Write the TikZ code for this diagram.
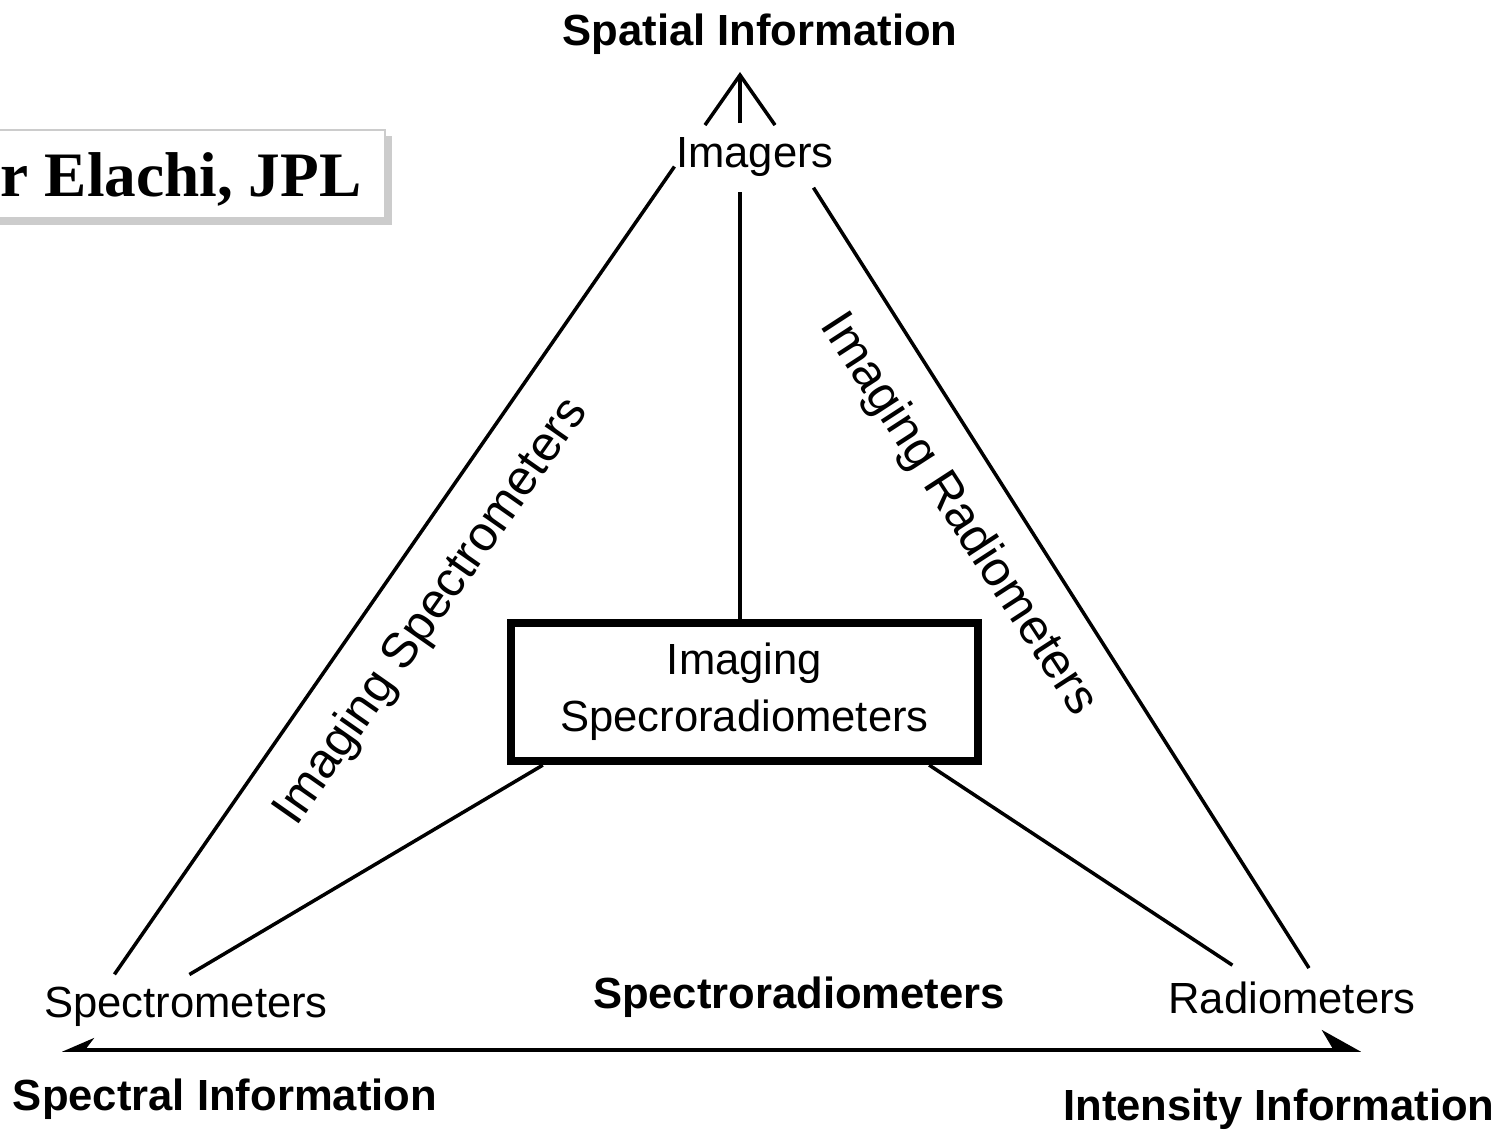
\documentclass[tikz,border=0pt]{standalone}
\usepackage{fontspec}
\setmainfont{Liberation Sans}
\newfontfamily\creditfont{Liberation Serif}
\usetikzlibrary{arrows.meta,calc}
\tikzset{
  rim/.style={line width=1pt,draw=black},
  info/.style={font=\fontsize{12.4pt}{15pt}\selectfont\bfseries,inner sep=0pt,anchor=base},
  kind/.style={font=\fontsize{12.4pt}{15pt}\selectfont,inner sep=4pt,anchor=base},
  sidetext/.style={font=\fontsize{14pt}{17pt}\selectfont,inner sep=0pt},
  corebox/.style={draw,line width=2.3pt,minimum width=4.67cm,minimum height=1.38cm,
    align=center,font=\fontsize{12.4pt}{16.2pt}\selectfont,inner sep=0pt},
  infoaxis/.style={line width=1pt,
    {Stealth[harpoon,swap,length=2.8mm,width=2.4mm]}-{Stealth[harpoon,length=3.6mm,width=4mm]}}
}
\begin{document}
\begin{tikzpicture}[x=0.01cm,y=-0.01cm]
  \useasboundingbox (0,0) rectangle (1506,1131);
  \clip (0,0) rectangle (1506,1131);

  % corners of the triangle
  \coordinate (spatial) at (740,72);
  \coordinate (spectral) at (62,1050);
  \coordinate (intensity) at (1361,1050);

  % credit box, runs off the left edge
  \fill[gray!40] (-20,136) rectangle (392,225);
  \filldraw[fill=white,draw=gray!40,line width=0.6pt] (-20,130) rectangle (385,218);
  \node[font=\creditfont\bfseries\fontsize{18pt}{20pt}\selectfont,anchor=base east,inner sep=0pt] (credit) at (362,197) {er Elachi, JPL};

  % axis names
  \node[info] (spatialtxt) at (760,46) {Spatial Information};
  \node[info] (spectraltxt) at (225,1110) {Spectral Information};
  \node[info] (intensitytxt) at (1279,1120) {Intensity Information};
  \node[info] (spectrorad) at (799,1008) {Spectroradiometers};

  % instrument kinds
  \node[kind] (imagers) at (755,168) {Imagers};
  \node[kind] (spectro) at (186,1017) {Spectrometers};
  \node[kind] (radio) at (1292,1013) {Radiometers};
  \node[corebox] (core) at (744.5,692) {Imaging\\Specroradiometers};

  \node[sidetext,rotate=55] (imgspec) at (432,612) {Imaging Spectrometers};
  \node[sidetext,rotate=-57] (imgrad) at (958,515) {Imaging Radiometers};

  % sides, broken at the corner labels
  \draw[rim,shorten <=0.92cm,shorten >=1.15cm] (spectral) -- (spatial);
  \draw[rim,shorten <=0.97cm,shorten >=1.37cm] (intensity) -- (spatial);

  % box down to the lower corners
  \draw[rim,shorten >=1.48cm] ([xshift=0.36cm]core.south west) -- (spectral);
  \draw[rim,shorten >=1.54cm] ([xshift=-0.53cm]core.south east) -- (intensity);

  % spatial axis through the imagers
  \draw[rim] (core.north -| spatial) -- (imagers.south -| spatial);
  \draw[rim,-{Straight Barb[length=5mm,width=7mm]}] (imagers.north -| spatial) -- (spatial);

  % spectral / intensity axis
  \draw[infoaxis] (spectral) -- (intensity);
\end{tikzpicture}
\end{document}
